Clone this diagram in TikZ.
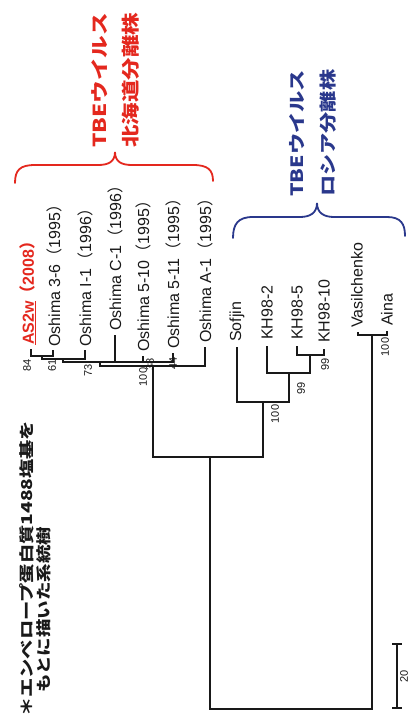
\documentclass[tikz,border=0pt]{standalone}
\usepackage{fontspec}
\usepackage{graphicx}
\setmainfont{Liberation Sans}
\newfontfamily\jp{Noto Sans CJK JP}
\definecolor{redc}{RGB}{228,40,30}
\definecolor{bluec}{RGB}{42,56,140}
\definecolor{ink}{RGB}{25,25,25}
\begin{document}
\begin{tikzpicture}[x=1pt,y=-1pt,
  tree/.style={draw=ink, line width=1.3pt},
  brace/.style={line width=1.8pt, line cap=round},
  leaf/.style={rotate=90, anchor=west, inner sep=0pt, text=ink, font=\fontsize{16}{16}\selectfont},
  boot/.style={rotate=90, inner sep=0pt, text=ink, font=\fontsize{11}{11}\selectfont},
  head/.style={rotate=90, anchor=west, inner sep=0pt, font=\jp\bfseries\fontsize{18}{18}\selectfont},
  note/.style={rotate=90, anchor=west, inner sep=0pt, text=ink, font=\jp\bfseries\fontsize{15}{15}\selectfont}]
\useasboundingbox (0,0) rectangle (411,727);
\fill[white] (0,0) rectangle (411,727);

% ---- headers
\node[head, text=redc] (hR1) at (100,148) {\resizebox{135pt}{\height}{TBEウイルス}};
\node[head, text=redc] (hR2) at (131,148) {\resizebox{135pt}{\height}{北海道分離株}};
\node[head, text=bluec, font=\jp\bfseries\fontsize{17}{17}\selectfont] (hB1) at (297,197) {\resizebox{127pt}{\height}{TBEウイルス}};
\node[head, text=bluec, font=\jp\bfseries\fontsize{17}{17}\selectfont] (hB2) at (328,197) {\resizebox{127pt}{\height}{ロシア分離株}};

% ---- braces
\draw[brace, redc] (15,183) .. controls (15,170) and (20,165) .. (35,165) -- (98,165)
  .. controls (108,165) and (115,162) .. (115,152)
  .. controls (115,162) and (122,165) .. (132,165) -- (193,165)
  .. controls (208,165) and (213,170) .. (213,181);
\draw[brace, bluec] (233,238) .. controls (233,224) and (238,217) .. (253,217) -- (300,217)
  .. controls (310,217) and (317,213) .. (317,203)
  .. controls (317,213) and (324,217) .. (334,217) -- (387,217)
  .. controls (401,217) and (405,224) .. (405,236);

% ---- leaf labels
\node[leaf, text=redc, font=\bfseries\fontsize{16}{16}\selectfont] (tAS) at (28,345) {\underline{AS2w}{\jp（}2008{\jp）}};
\node[leaf] (t36) at (54,347) {Oshima 3-6{\jp（}1995{\jp）}};
\node[leaf] (tI1) at (85,347) {Oshima I-1{\jp（}1996{\jp）}};
\node[leaf] (tC1) at (115,331) {Oshima C-1{\jp（}1996{\jp）}};
\node[leaf] (t510) at (143,352) {Oshima 5-10{\jp（}1995{\jp）}};
\node[leaf] (t511) at (173,349) {Oshima 5-11{\jp（}1995{\jp）}};
\node[leaf] (tA1) at (205,343) {Oshima A-1{\jp（}1995{\jp）}};
\node[leaf] (tSof) at (237,342) {Sofjin};
\node[leaf] (tK2) at (267,340) {KH98-2};
\node[leaf] (tK5) at (297,340) {KH98-5};
\node[leaf] (tK10) at (324,343) {KH98-10};
\node[leaf] (tVa) at (357,328) {Vasilchenko};
\node[leaf] (tAi) at (387,326) {Aina};

% ---- leaf tips
\coordinate (pAS) at (31,349);
\coordinate (p36) at (53,350);
\coordinate (pI1) at (85,350);
\coordinate (pC1) at (115,335);
\coordinate (p510) at (143,356);
\coordinate (p511) at (173,353);
\coordinate (pA1) at (205,347);
\coordinate (pSof) at (237,347);
\coordinate (pK2) at (267,346);
\coordinate (pK5) at (297,346);
\coordinate (pK10) at (324,349);
\coordinate (pVa) at (358,332);
\coordinate (pAi) at (387,331);

% ---- internal nodes
\coordinate (n1) at (42,356);
\coordinate (n2) at (63,359);
\coordinate (n3) at (100,362);
\coordinate (n4) at (153,366);
\coordinate (nJ) at (210,457);
\coordinate (nR) at (263,402);
\coordinate (nKb) at (289,373);
\coordinate (nKa) at (310,355);
\coordinate (nVA) at (372,335);
\coordinate (root) at (292,709);

% ---- tree
\draw[tree] (pAS) |- (n1) -| (p36);
\draw[tree] (n1) |- (n2) -| (pI1);
\draw[tree] (n2) |- (n3) -| (p511);
\draw[tree] (pC1) |- (n3);
\draw[tree] (p510) |- (n3);
\draw[tree] (n3) |- (n4) -| (pA1);
\draw[tree] (n4) |- (nJ) -| (nR);
\draw[tree] (pSof) |- (nR) -| (nKb);
\draw[tree] (pK2) |- (nKb) -| (nKa);
\draw[tree] (pK5) |- (nKa) -| (pK10);
\draw[tree] (pVa) |- (nVA) -| (pAi);
\draw[tree] (nJ) |- (root) -| (nVA);

% ---- bootstrap values
\node[boot] (b84) at (27,365) {84};
\node[boot] (b61) at (52,365) {61};
\node[boot] (b73) at (88,370) {73};
\node[boot] (b38) at (150,364) {38};
\node[boot] (b44) at (173,363) {44};
\node[boot] (b100a) at (143,377) {100};
\node[boot] (b100b) at (275,414) {100};
\node[boot] (b99a) at (301,388) {99};
\node[boot] (b99b) at (325,364) {99};
\node[boot] (b100c) at (385,347) {100};

% ---- scale bar
\coordinate (sT) at (397,644);
\coordinate (sB) at (397,708);
\coordinate (sTl) at (392,644);
\coordinate (sTr) at (402,644);
\coordinate (sBl) at (392,708);
\coordinate (sBr) at (402,708);
\draw[tree] (sT) -- (sB);
\draw[tree] (sTl) -- (sTr);
\draw[tree] (sBl) -- (sBr);
\node[boot] (s20) at (404,676) {20};

% ---- footnote
\node[note] (f1) at (27,717) {\resizebox{296pt}{\height}{＊エンベロープ蛋白質1488塩基を}};
\node[note] (f2) at (44,693) {\resizebox{166pt}{\height}{もとに描いた系統樹}};
\end{tikzpicture}
\end{document}
